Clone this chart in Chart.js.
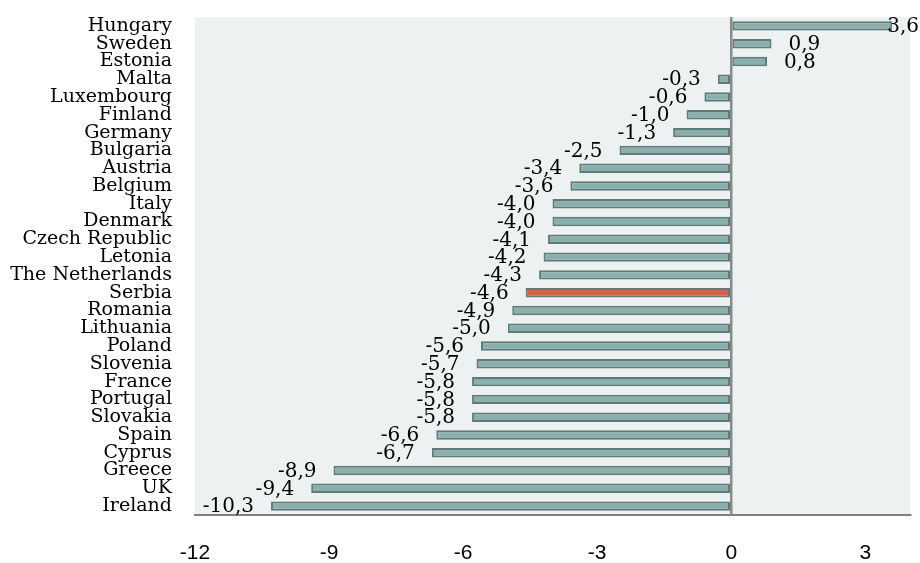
<!DOCTYPE html>
<html>
<head>
<meta charset="utf-8">
<script src="https://cdn.jsdelivr.net/npm/chart.js@4"></script>
<style>
  html, body { margin: 0; padding: 0; background: #ffffff; }
  #wrap { width: 920px; height: 563px; }
</style>
</head>
<body>
<div id="wrap"><canvas id="deficitChart" width="920" height="563"></canvas></div>
<script>
// Countries, top to bottom
const countries = [
  "Hungary", "Sweden", "Estonia", "Malta", "Luxembourg", "Finland", "Germany",
  "Bulgaria", "Austria", "Belgium", "Italy", "Denmark", "Czech Republic",
  "Letonia", "The Netherlands", "Serbia", "Romania", "Lithuania", "Poland",
  "Slovenia", "France", "Portugal", "Slovakia", "Spain", "Cyprus", "Greece",
  "UK", "Ireland"
];
// Balance values (% of GDP)
const balance = [
  3.6, 0.9, 0.8, -0.3, -0.6, -1.0, -1.3,
  -2.5, -3.4, -3.6, -4.0, -4.0, -4.1,
  -4.2, -4.3, -4.6, -4.9, -5.0, -5.6,
  -5.7, -5.8, -5.8, -5.8, -6.6, -6.7, -8.9,
  -9.4, -10.3
];
const xTicks = [-12, -9, -6, -3, 0, 3];
const highlight = "Serbia";

const barFill = "#8aafad";
const barEdge = "#5f7b79";
const hiFill = "#d2604a";

// light panel behind the bars
const plotBackground = {
  id: "plotBackground",
  beforeDraw(chart) {
    const a = chart.chartArea;
    const c = chart.ctx;
    c.save();
    c.fillStyle = "#edf1f1";
    c.fillRect(a.left, a.top, a.right - a.left, a.bottom - a.top);
    c.restore();
  }
};

// value text at the end of each bar, comma decimals
const valueLabels = {
  id: "valueLabels",
  afterDatasetsDraw(chart) {
    const c = chart.ctx;
    const meta = chart.getDatasetMeta(0);
    c.save();
    c.font = "20px 'DejaVu Serif'";
    c.fillStyle = "#000000";
    c.textBaseline = "middle";
    meta.data.forEach((bar, i) => {
      const v = balance[i];
      const txt = v.toFixed(1).replace(".", ",");
      const w = c.measureText(txt).width;
      let x;
      if (v < 0) {
        x = bar.x - 17 - w;
      } else {
        x = Math.min(bar.x + 17, chart.width - 1 - w);
      }
      c.fillText(txt, x, bar.y + 1);
    });
    c.restore();
  }
};

const ctx = document.getElementById("deficitChart").getContext("2d");
const deficitChart = new Chart(ctx, {
  type: "bar",
  data: {
    labels: countries,
    datasets: [
      {
        data: balance,
        backgroundColor: countries.map(n => n === highlight ? hiFill : barFill),
        borderColor: barEdge,
        borderWidth: 2,
        borderSkipped: false,
        barPercentage: 0.53,
        categoryPercentage: 1.0
      }
    ]
  },
  options: {
    indexAxis: "y",
    responsive: false,
    animation: false,
    layout: { padding: { top: 17, right: 10, left: 0, bottom: 0 } },
    plugins: {
      legend: { display: false },
      tooltip: { enabled: false }
    },
    scales: {
      x: {
        min: -12,
        max: 4,
        z: 1,
        afterBuildTicks(scale) {
          scale.ticks = xTicks.map(v => ({ value: v }));
        },
        afterFit(scale) { scale.height = 48; },
        grid: {
          drawTicks: false,
          lineWidth: 2.5,
          color: c => (c.tick && c.tick.value === 0 ? "#8a8a8a" : "rgba(0,0,0,0)")
        },
        border: { display: true, color: "#808080", width: 2 },
        ticks: {
          padding: 26,
          color: "#000000",
          font: { family: "'Liberation Sans'", size: 21 }
        }
      },
      y: {
        afterFit(scale) {
          scale.width = 195;
          // tick padding shouldn't push the plot down
          scale.paddingTop = 0;
          scale.paddingBottom = 0;
        },
        grid: { display: false, drawTicks: false },
        border: { display: false },
        ticks: {
          autoSkip: false,
          padding: 23,
          color: "#000000",
          font: { family: "'DejaVu Serif'", size: 19 }
        }
      }
    }
  },
  plugins: [plotBackground, valueLabels]
});
</script>
</body>
</html>
